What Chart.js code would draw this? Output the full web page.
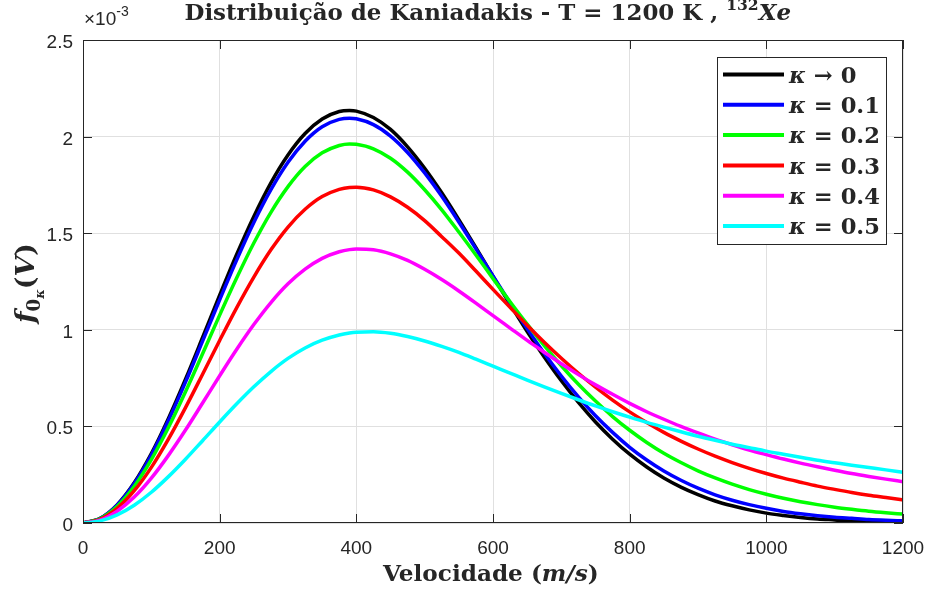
<!DOCTYPE html>
<html>
<head>
<meta charset="utf-8">
<script src="https://cdn.jsdelivr.net/npm/chart.js@4.4.1/dist/chart.umd.min.js"></script>
<style>
html, body { margin: 0; padding: 0; background: #fff; }
#wrap { width: 928px; height: 593px; }
</style>
</head>
<body>
<div id="wrap"><canvas id="chart" width="928" height="593"></canvas></div>
<script>
// velocity axis (m/s)
var velocity = [0, 25, 50, 75, 100, 125, 150, 175, 200, 225, 250, 275, 300, 325, 350, 375, 390, 400,
    425, 450, 475, 500, 525, 550, 575, 600, 625, 650, 675, 700, 725, 750, 775, 800,
    825, 850, 875, 900, 925, 950, 975, 1000, 1025, 1050, 1075, 1100, 1125, 1150, 1175, 1200];

// f values, in units of 10^-3
var kappa00 = [0, 0.024, 0.094, 0.208, 0.359, 0.541, 0.744, 0.960, 1.179, 1.391, 1.587, 1.761, 1.905, 2.016, 2.091, 2.130, 2.135, 2.132,
    2.099, 2.037, 1.947, 1.836, 1.709, 1.570, 1.425, 1.277, 1.132, 0.991, 0.859, 0.736, 0.624, 0.523, 0.434, 0.356,
    0.290, 0.233, 0.186, 0.147, 0.114, 0.089, 0.068, 0.051, 0.039, 0.029, 0.021, 0.016, 0.011, 0.008, 0.006, 0.004];
var kappa01 = [0, 0.023, 0.093, 0.204, 0.352, 0.530, 0.729, 0.941, 1.155, 1.362, 1.555, 1.725, 1.867, 1.976, 2.051, 2.089, 2.095, 2.092,
    2.062, 2.003, 1.918, 1.812, 1.691, 1.558, 1.419, 1.279, 1.140, 1.006, 0.879, 0.761, 0.653, 0.555, 0.469, 0.392,
    0.326, 0.269, 0.221, 0.180, 0.146, 0.118, 0.095, 0.076, 0.060, 0.048, 0.038, 0.030, 0.024, 0.018, 0.014, 0.011];
var kappa02 = [0, 0.022, 0.086, 0.190, 0.328, 0.494, 0.679, 0.876, 1.076, 1.269, 1.449, 1.608, 1.741, 1.845, 1.916, 1.954, 1.962, 1.960,
    1.937, 1.888, 1.816, 1.725, 1.621, 1.506, 1.387, 1.265, 1.145, 1.029, 0.918, 0.814, 0.718, 0.631, 0.551, 0.480,
    0.417, 0.361, 0.313, 0.270, 0.233, 0.201, 0.173, 0.149, 0.128, 0.110, 0.095, 0.082, 0.071, 0.061, 0.053, 0.046];
var kappa03 = [0, 0.019, 0.076, 0.167, 0.288, 0.434, 0.597, 0.770, 0.945, 1.115, 1.273, 1.414, 1.532, 1.624, 1.690, 1.727, 1.737, 1.738,
    1.724, 1.688, 1.634, 1.565, 1.482, 1.397, 1.304, 1.209, 1.116, 1.024, 0.936, 0.853, 0.775, 0.703, 0.636, 0.575,
    0.520, 0.469, 0.424, 0.383, 0.346, 0.313, 0.283, 0.256, 0.232, 0.211, 0.191, 0.174, 0.158, 0.144, 0.132, 0.120];
var kappa04 = [0, 0.015, 0.061, 0.134, 0.232, 0.350, 0.481, 0.621, 0.762, 0.899, 1.027, 1.141, 1.238, 1.314, 1.370, 1.404, 1.415, 1.418,
    1.414, 1.393, 1.359, 1.313, 1.260, 1.201, 1.138, 1.073, 1.009, 0.945, 0.884, 0.824, 0.768, 0.715, 0.666, 0.619,
    0.576, 0.537, 0.500, 0.466, 0.434, 0.405, 0.378, 0.354, 0.331, 0.310, 0.291, 0.273, 0.256, 0.241, 0.227, 0.214];
var kappa05 = [0, 0.011, 0.042, 0.092, 0.159, 0.240, 0.330, 0.426, 0.523, 0.617, 0.705, 0.784, 0.852, 0.906, 0.946, 0.973, 0.983, 0.987,
    0.990, 0.982, 0.965, 0.942, 0.914, 0.883, 0.848, 0.812, 0.776, 0.740, 0.705, 0.671, 0.638, 0.606, 0.576, 0.548,
    0.521, 0.496, 0.472, 0.449, 0.428, 0.408, 0.390, 0.372, 0.356, 0.340, 0.325, 0.312, 0.299, 0.287, 0.275, 0.262];

var seriesNames = ['κ → 0', 'κ = 0.1', 'κ = 0.2', 'κ = 0.3', 'κ = 0.4', 'κ = 0.5'];
var seriesColors = ['#000000', '#0000ff', '#00ff00', '#ff0000', '#ff00ff', '#00ffff'];
var allSeries = [kappa00, kappa01, kappa02, kappa03, kappa04, kappa05];

var xTicks = [0, 200, 400, 600, 800, 1000, 1200];
var yTicks = [0, 0.5, 1, 1.5, 2, 2.5];

var serif = '"DejaVu Serif", "Liberation Serif", serif';
var sans = '"Liberation Sans", Arial, sans-serif';
var ink = '#262626';

function partFont(p, size) {
    return (p.it ? 'italic ' : '') + 'bold ' + (size * (p.s || 1)) + 'px ' + serif;
}

function richWidth(ctx, parts, size) {
    var w = 0;
    parts.forEach(function (p) {
        ctx.font = partFont(p, size);
        w += ctx.measureText(p.t).width;
    });
    return w;
}

function fitSize(ctx, parts, width) {
    return 20 * width / richWidth(ctx, parts, 20);
}

function drawRich(ctx, parts, left, baseY, size) {
    var xPos = left;
    parts.forEach(function (p) {
        ctx.font = partFont(p, size);
        ctx.fillText(p.t, xPos, baseY + (p.dy || 0) * size);
        xPos += ctx.measureText(p.t).width;
    });
}

var decor = {
    id: 'decor',
    afterDraw: function (chart) {
        var ctx = chart.ctx;
        var a = chart.chartArea;
        var xs = chart.scales.x, ys = chart.scales.y;
        var tick = 9;
        ctx.save();
        ctx.textAlign = 'left';
        ctx.textBaseline = 'alphabetic';

        // axes box + inward ticks
        ctx.strokeStyle = ink;
        ctx.lineWidth = 1;
        ctx.strokeRect(Math.round(a.left) + 0.5, Math.round(a.top) + 0.5,
            Math.round(a.right - a.left) - 1, Math.round(a.bottom - a.top) - 1);
        ctx.beginPath();
        xTicks.forEach(function (v) {
            var px = Math.round(xs.getPixelForValue(v)) + 0.5;
            ctx.moveTo(px, a.bottom); ctx.lineTo(px, a.bottom - tick);
            ctx.moveTo(px, a.top); ctx.lineTo(px, a.top + tick);
        });
        yTicks.forEach(function (v) {
            var py = Math.round(ys.getPixelForValue(v)) + 0.5;
            ctx.moveTo(a.left, py); ctx.lineTo(a.left + tick, py);
            ctx.moveTo(a.right, py); ctx.lineTo(a.right - tick, py);
        });
        ctx.stroke();

        // tick labels
        ctx.fillStyle = ink;
        ctx.font = '19px ' + sans;
        ctx.textAlign = 'center';
        xTicks.forEach(function (v) {
            ctx.fillText(String(v), xs.getPixelForValue(v), a.bottom + 31);
        });
        ctx.textAlign = 'right';
        yTicks.forEach(function (v) {
            ctx.fillText(String(v), a.left - 10, ys.getPixelForValue(v) + 8);
        });

        // exponent
        ctx.textAlign = 'left';
        ctx.font = '19px ' + sans;
        ctx.fillText('×10', a.left + 1, a.top - 15);
        var wx = ctx.measureText('×10').width;
        ctx.font = '14px ' + sans;
        ctx.fillText('-3', a.left + 1 + wx, a.top - 24);

        // title
        var title = [{ t: 'Distribuição de Kaniadakis - T = 1200 K , ' },
            { t: '132', s: 0.68, dy: -0.42 }, { t: 'Xe', it: true }];
        var tw = 607;
        drawRich(ctx, title, 488 - tw / 2, 19.5, fitSize(ctx, title, tw));

        // x label
        var xl = [{ t: 'Velocidade (' }, { t: 'm/s', it: true }, { t: ')' }];
        var xw = 216;
        drawRich(ctx, xl, 491 - xw / 2, 581, fitSize(ctx, xl, xw));

        // y label
        var yl = [{ t: 'f', it: true }, { t: '0', s: 0.68, dy: 0.22 }, { t: 'κ', it: true, s: 0.48, dy: 0.36 },
            { t: '(' }, { t: 'V', it: true }, { t: ')' }];
        var yw = 80;
        var ysz = fitSize(ctx, yl, yw);
        ctx.save();
        ctx.translate(25, 283);
        ctx.rotate(-Math.PI / 2);
        drawRich(ctx, yl, -yw / 2, 0.34 * ysz, ysz);
        ctx.restore();

        // legend
        var bx = a.right - 186, by = a.top + 17, bw = 169, bh = 187;
        ctx.fillStyle = '#ffffff';
        ctx.fillRect(bx, by, bw, bh);
        ctx.strokeStyle = ink;
        ctx.strokeRect(bx + 0.5, by + 0.5, bw, bh);
        var lsz = fitSize(ctx, [{ t: 'κ', it: true }, { t: ' = 0.1' }], 91);
        seriesNames.forEach(function (name, i) {
            var ry = by + 17.5 + i * 30.3;
            ctx.strokeStyle = seriesColors[i];
            ctx.lineWidth = 4;
            ctx.beginPath();
            ctx.moveTo(bx + 6, ry); ctx.lineTo(bx + 67, ry);
            ctx.stroke();
            ctx.fillStyle = ink;
            drawRich(ctx, [{ t: 'κ', it: true }, { t: name.slice(1) }], bx + 72, ry + 0.36 * lsz, lsz);
        });
        ctx.restore();
    }
};

var datasets = allSeries.map(function (vals, i) {
    return {
        label: seriesNames[i],
        data: velocity.map(function (v, k) { return { x: v, y: vals[k] }; }),
        borderColor: seriesColors[i],
        backgroundColor: seriesColors[i],
        borderWidth: 3.5,
        pointRadius: 0,
        fill: false,
        cubicInterpolationMode: 'monotone',
        order: allSeries.length - i
    };
});

new Chart(document.getElementById('chart').getContext('2d'), {
    type: 'line',
    data: { datasets: datasets },
    options: {
        responsive: false,
        animation: false,
        devicePixelRatio: 1,
        layout: { padding: { left: 83, right: 25, top: 40, bottom: 70 } },
        plugins: { legend: { display: false }, title: { display: false }, tooltip: { enabled: false } },
        scales: {
            x: {
                type: 'linear', min: 0, max: 1200,
                ticks: { display: false, stepSize: 200 },
                grid: { color: '#e0e0e0', drawTicks: false },
                border: { display: false }
            },
            y: {
                min: 0, max: 2.5,
                ticks: { display: false, stepSize: 0.5 },
                grid: { color: '#e0e0e0', drawTicks: false },
                border: { display: false }
            }
        }
    },
    plugins: [decor]
});
</script>
</body>
</html>
